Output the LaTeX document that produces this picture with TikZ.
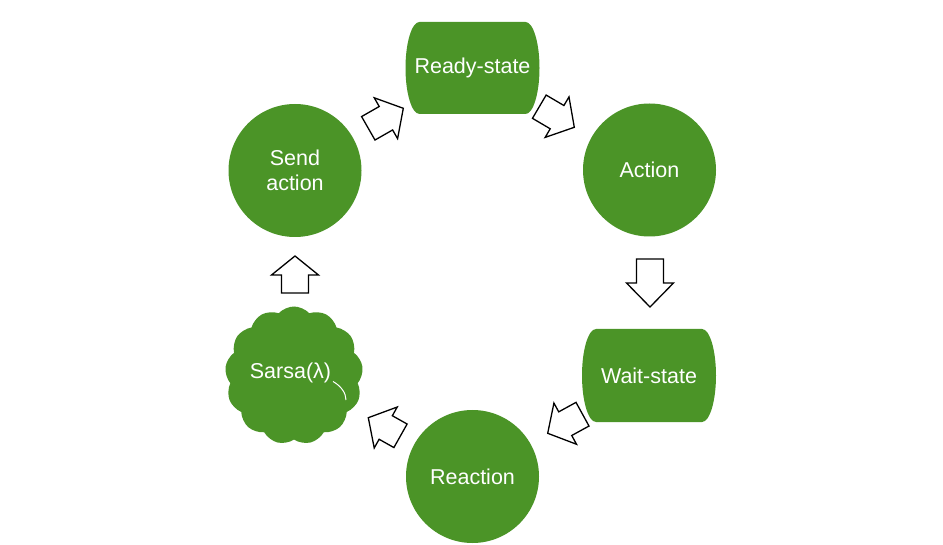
\documentclass[tikz,border=0pt]{standalone}
\usepackage{fontspec}
\setmainfont{Liberation Sans}
\usetikzlibrary{calc,shapes.symbols,backgrounds}
\definecolor{leaf}{RGB}{75,148,39}
\newcommand{\blockarr}[3]{%
  \coordinate (hb) at ($(#2)!#3pt!(#1)$);
  \draw[arrowbox] ($(#1)!13.5pt!90:(#2)$) -- ($(hb)!13.5pt!-90:(#1)$) -- ($(hb)!23.5pt!-90:(#1)$) -- (#2)
    -- ($(hb)!23.5pt!90:(#1)$) -- ($(hb)!13.5pt!90:(#1)$) -- ($(#1)!13.5pt!-90:(#2)$) -- cycle;}
% capsule outline around node #1, half height #2 (flat part 106 wide, bulge 14)
\newcommand{\capsulefill}[2]{%
  \fill[leaf] ($(#1.center)+(-53,-#2)$) -- ($(#1.center)+(53,-#2)$)
    .. controls +(7.7,0) and +(0,-#2*0.552) .. ($(#1.center)+(67,0)$)
    .. controls +(0,#2*0.552) and +(7.7,0) .. ($(#1.center)+(53,#2)$)
    -- ($(#1.center)+(-53,#2)$)
    .. controls +(-7.7,0) and +(0,#2*0.552) .. ($(#1.center)+(-67,0)$)
    .. controls +(0,-#2*0.552) and +(-7.7,0) .. ($(#1.center)+(-53,-#2)$) -- cycle;}
\begin{document}
\begin{tikzpicture}[x=1pt,y=-1pt,
  every node/.style={text=white, font=\fontsize{21.5}{24.5}\selectfont, align=center},
  disc/.style={circle, fill=leaf, minimum size=133pt, inner sep=0pt},
  capsule/.style={rectangle, inner sep=0pt},
  arrowbox/.style={draw=black, fill=white, line width=1.3pt, line join=miter}]
\useasboundingbox (0,0) rectangle (943,545);

\node[disc] (send) at (295,170.5) {Send\\action};
\node[disc] (action) at (649.5,170) {Action};
\node[disc] (reaction) at (472.5,476.5) {Reaction};
\node[capsule] (ready) at (472.5,68) {Ready-state};
\node[capsule] (wait) at (649,375.5) {Wait-state};
\node[cloud, cloud puffs=13, cloud puff arc=95, aspect=1, minimum width=138pt, minimum height=138pt, inner sep=0pt, fill=leaf] (sarsa) at (294,375.5) {};
\node (sarsatext) at (290.5,373) {Sarsa(λ)};

\begin{scope}[on background layer]
\capsulefill{ready}{46}
\capsulefill{wait}{46.5}
\end{scope}
\draw[white, line width=1pt] (333,381.5) .. controls (341,386) and (346,393) .. (346,400);

\coordinate (t1) at (368.3,128.3); \coordinate (h1) at (403.3,108.3);
\coordinate (t2) at (539.3,106.7); \coordinate (h2) at (574.3,127.3);
\coordinate (t3) at (650,259);     \coordinate (h3) at (650,307);
\coordinate (t4) at (582.5,414.2); \coordinate (h4) at (547.7,433.3);
\coordinate (t5) at (400.5,435.8); \coordinate (h5) at (368.3,417.7);
\coordinate (t6) at (295,293);     \coordinate (h6) at (295,256);
\blockarr{t1}{h1}{20}
\blockarr{t2}{h2}{20}
\blockarr{t3}{h3}{24}
\blockarr{t4}{h4}{20}
\blockarr{t5}{h5}{20}
\blockarr{t6}{h6}{19}
\end{tikzpicture}
\end{document}
